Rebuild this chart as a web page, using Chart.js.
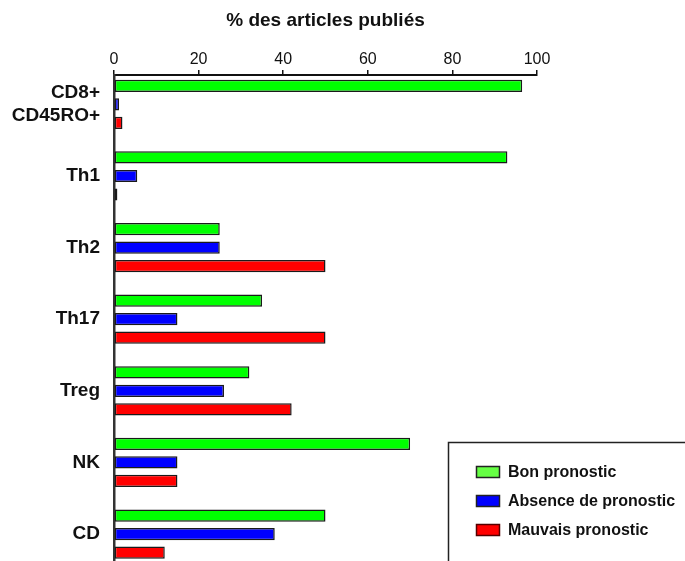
<!DOCTYPE html>
<html>
<head>
<meta charset="utf-8">
<script src="https://cdn.jsdelivr.net/npm/chart.js@4/dist/chart.umd.min.js"></script>
<style>
  html, body { margin: 0; padding: 0; background: #ffffff; overflow: hidden; }
  #wrap { width: 685px; height: 561px; position: relative; }
</style>
</head>
<body>
<div id="wrap"><canvas id="c" width="685" height="561"></canvas></div>
<script>
const categories = [["CD8+", "CD45RO+"], "Th1", "Th2", "Th17", "Treg", "NK", "CD"];
const bonPronostic      = [96.5, 93, 25, 35, 32, 70, 50];
const absencePronostic  = [1.2, 5.5, 25, 15, 26, 15, 38];
const mauvaisPronostic  = [2, 0.8, 50, 50, 42, 15, 12];
const seriesNames = ["Bon pronostic", "Absence de pronostic", "Mauvais pronostic"];
const xTicks = [0, 20, 40, 60, 80, 100];
const titleText = "% des articles publiés";

const FONT = "'Liberation Sans', Arial, sans-serif";
const colors = ["#00ff00", "#0000ff", "#ff0000"];
const legendColors = ["#66ff44", "#0000ff", "#ff0000"];

function toPoints(arr) { return arr.map((v, i) => ({ x: v, y: i })); }

const legendPlugin = {
  id: 'boxLegend',
  afterDraw(chart) {
    const ctx = chart.ctx;
    ctx.save();
    ctx.lineWidth = 1.5;
    ctx.strokeStyle = '#222';
    ctx.fillStyle = '#ffffff';
    ctx.beginPath();
    ctx.rect(448.5, 442.5, 300, 200);
    ctx.fill();
    ctx.stroke();
    chart.data.datasets.forEach((ds, i) => {
      const y = 466 + i * 29;
      ctx.fillStyle = legendColors[i];
      ctx.fillRect(476, y, 24, 12);
      ctx.lineWidth = 1.5;
      ctx.strokeStyle = i === 2 ? '#550000' : '#222';
      ctx.strokeRect(476.5, y + 0.5, 23, 11);
      ctx.fillStyle = '#111';
      ctx.font = "bold 16px " + FONT;
      ctx.textBaseline = 'middle';
      ctx.textAlign = 'left';
      ctx.fillText(ds.label, 508, y + 6.5);
    });
    ctx.restore();
  }
};

new Chart(document.getElementById('c'), {
  type: 'bar',
  data: {
    datasets: [
      { label: seriesNames[0], data: toPoints(bonPronostic), backgroundColor: colors[0] },
      { label: seriesNames[1], data: toPoints(absencePronostic), backgroundColor: colors[1] },
      { label: seriesNames[2], data: toPoints(mauvaisPronostic), backgroundColor: colors[2] }
    ]
  },
  options: {
    indexAxis: 'y',
    responsive: false,
    devicePixelRatio: 1,
    animation: false,
    layout: { autoPadding: false, padding: { left: 0, right: 148, top: 0, bottom: 0 } },
    datasets: {
      bar: {
        categoryPercentage: 0.775,
        barPercentage: 0.66,
        borderColor: '#1a1a1a',
        borderWidth: 1.5,
        borderSkipped: false
      }
    },
    plugins: {
      legend: { display: false },
      tooltip: { enabled: false },
      title: {
        display: true,
        text: titleText,
        fullSize: false,
        color: '#111',
        font: { family: FONT, size: 19, weight: 'bold', lineHeight: 1.2 },
        padding: { top: 9, bottom: 0 }
      }
    },
    scales: {
      x: {
        type: 'linear',
        position: 'top',
        min: 0,
        max: 100,
        afterBuildTicks(s) { s.ticks = xTicks.map(v => ({ value: v })); },
        afterFit(s) { s.height = 43.2; s.paddingLeft = 0; s.paddingRight = 0; },
        grid: { display: true, drawOnChartArea: false, drawTicks: true, tickLength: 5, color: '#111', lineWidth: 1.5 },
        border: { display: true, color: '#111', width: 2 },
        ticks: { color: '#111', padding: 1, font: { family: FONT, size: 16 } }
      },
      y: {
        type: 'linear',
        reverse: true,
        offset: false,
        min: -0.41,
        max: 6.376,
        afterBuildTicks(s) { s.ticks = categories.map((c, i) => ({ value: i })); },
        afterFit(s) { s.width = 114; s.paddingTop = 0; s.paddingBottom = 0; },
        grid: { display: false, drawTicks: false, offset: false },
        border: { display: true, color: '#333', width: 2.5 },
        ticks: {
          color: '#111',
          padding: 14,
          font: { family: FONT, size: 19, weight: 'bold', lineHeight: 1.25 },
          callback: (v) => categories[v]
        }
      }
    }
  },
  plugins: [legendPlugin]
});
</script>
</body>
</html>
